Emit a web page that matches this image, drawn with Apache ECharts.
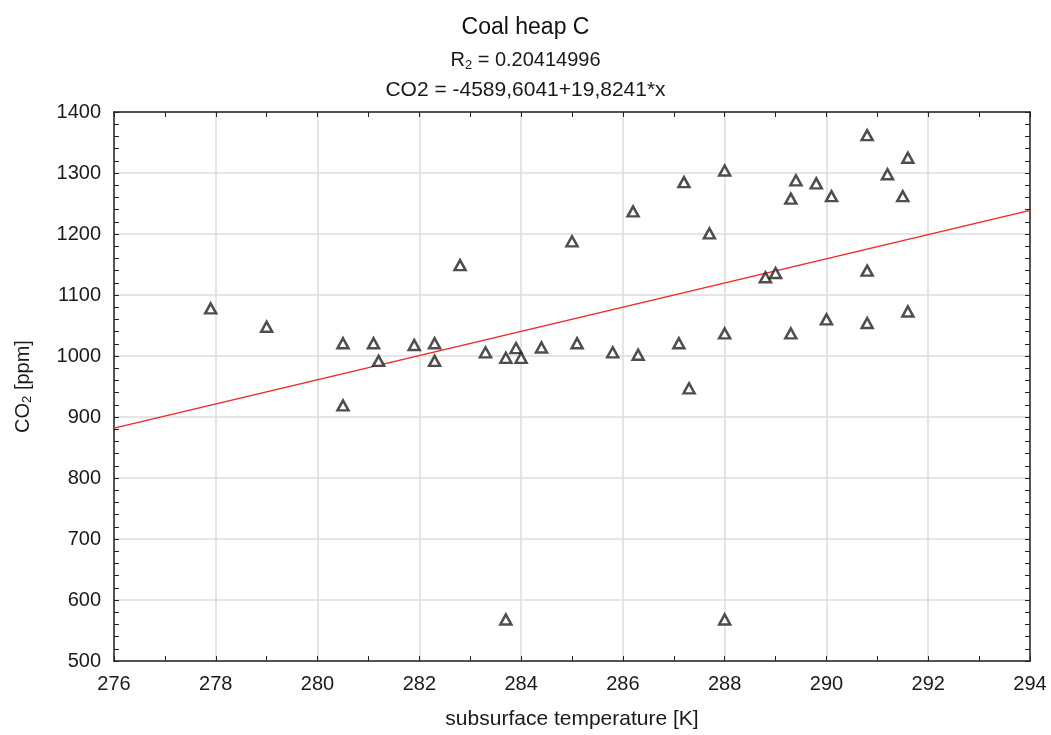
<!DOCTYPE html>
<html>
<head>
<meta charset="utf-8">
<script src="https://cdn.jsdelivr.net/npm/echarts@6/dist/echarts.min.js"></script>
<style>html,body{margin:0;padding:0;background:#fff;}#c{width:1051px;height:735px;}</style>
</head>
<body>
<div id="c"></div>
<script>
// Data
const temperature = [277.9, 279.0, 280.5, 280.5, 281.1, 281.2, 281.9, 282.3, 282.3, 282.8,
  283.3, 283.7, 283.9, 284.0, 284.4, 285.0, 285.1, 285.8, 286.3, 286.2,
  287.2, 287.7, 287.1, 287.3, 288.0, 288.0, 288.8, 289.0, 289.3, 289.4,
  289.8, 290.1, 289.3, 290.0, 290.8, 290.8, 290.8, 291.2, 291.5, 291.6,
  291.6, 283.7, 288.0];
const co2 = [1078, 1048, 1021, 919, 1021, 992, 1018, 1021, 992, 1149,
  1006, 997, 1013, 997, 1014, 1188, 1021, 1006, 1002, 1237,
  1285, 1201, 1021, 947, 1304, 1037, 1129, 1136, 1258, 1288,
  1283, 1262, 1037, 1060, 1362, 1140, 1054, 1298, 1262, 1325,
  1073, 568, 568];
// Regression from the chart's caption
const intercept = -4589.6041;
const slope = 19.8241;
const fitX = [276, 294];
const xTicks = [276, 278, 280, 282, 284, 286, 288, 290, 292, 294];
const yTicks = [500, 600, 700, 800, 900, 1000, 1100, 1200, 1300, 1400];

const points = temperature.map((t, i) => [t, co2[i]]);
const fitLine = fitX.map(x => [x, intercept + slope * x]);

const FONT = '"Liberation Sans", Arial, sans-serif';
const axisCol = '#222';
const textCol = '#1a1a1a';
const chart = echarts.init(document.getElementById('c'), null, {renderer: 'canvas'});

function xAx(pos, showLabel) {
  return {
    type: 'value', position: pos, min: xTicks[0], max: xTicks[xTicks.length - 1], interval: 2,
    axisLine: {show: true, onZero: false, lineStyle: {color: axisCol, width: 1.5}},
    axisTick: {show: true, inside: true, length: 5, lineStyle: {color: axisCol}},
    minorTick: {show: true, splitNumber: 2, length: 5, lineStyle: {color: axisCol}},
    splitLine: {show: showLabel, lineStyle: {color: '#dcdcdc', width: 1.5}},
    axisLabel: {show: showLabel, color: textCol, fontSize: 20, fontFamily: FONT, margin: 13,
      formatter: v => String(v)},
    name: showLabel ? 'subsurface temperature [K]' : '',
    nameLocation: 'middle', nameGap: 48,
    nameTextStyle: {color: textCol, fontSize: 21, fontFamily: FONT}
  };
}
function yAx(pos, showLabel) {
  return {
    type: 'value', position: pos, min: yTicks[0], max: yTicks[yTicks.length - 1], interval: 100,
    axisLine: {show: true, onZero: false, lineStyle: {color: axisCol, width: 1.5}},
    axisTick: {show: true, inside: true, length: 5, lineStyle: {color: axisCol}},
    minorTick: {show: true, splitNumber: 5, length: 5, lineStyle: {color: axisCol}},
    splitLine: {show: showLabel, lineStyle: {color: '#dcdcdc', width: 1.5}},
    axisLabel: {show: showLabel, color: textCol, fontSize: 20, fontFamily: FONT, margin: 13,
      formatter: v => String(v)},
    name: showLabel ? 'CO{sub|2} [ppm]' : '',
    nameLocation: 'middle', nameGap: 80, nameRotate: 90,
    nameTextStyle: {color: textCol, fontSize: 20, fontFamily: FONT,
      rich: {sub: {fontSize: 13, padding: [9, 0, 0, 0], fontFamily: FONT, color: textCol}}}
  };
}

chart.setOption({
  animation: false,
  backgroundColor: '#fff',
  title: [
    {text: 'Coal heap C', left: 'center', top: 11,
     textStyle: {fontSize: 23, fontWeight: 'normal', color: '#111', fontFamily: FONT}},
    {text: 'R{sub|2} = 0.20414996', left: 'center', top: 43,
     textStyle: {fontSize: 20, fontWeight: 'normal', color: textCol, fontFamily: FONT,
       rich: {sub: {fontSize: 13, padding: [11, 0, 0, 0], fontFamily: FONT, color: textCol}}}},
    {text: 'CO2 = -4589,6041+19,8241*x', left: 'center', top: 75,
     textStyle: {fontSize: 21, fontWeight: 'normal', color: textCol, fontFamily: FONT}}
  ],
  grid: {left: 114, right: 21, top: 112, bottom: 67, containLabel: false},
  xAxis: [xAx('bottom', true), xAx('top', false)],
  yAxis: [yAx('left', true), yAx('right', false)],
  series: [
    {type: 'line', data: fitLine, xAxisIndex: 0, yAxisIndex: 0, showSymbol: false, symbol: 'none',
     lineStyle: {color: '#ff2020', width: 1.3}, z: 2},
    {type: 'scatter', data: points, xAxisIndex: 0, yAxisIndex: 0, symbol: 'triangle', symbolSize: [11, 10],
     itemStyle: {color: '#fff', borderColor: '#222', borderWidth: 2.5}, z: 3}
  ]
});
</script>
</body>
</html>
